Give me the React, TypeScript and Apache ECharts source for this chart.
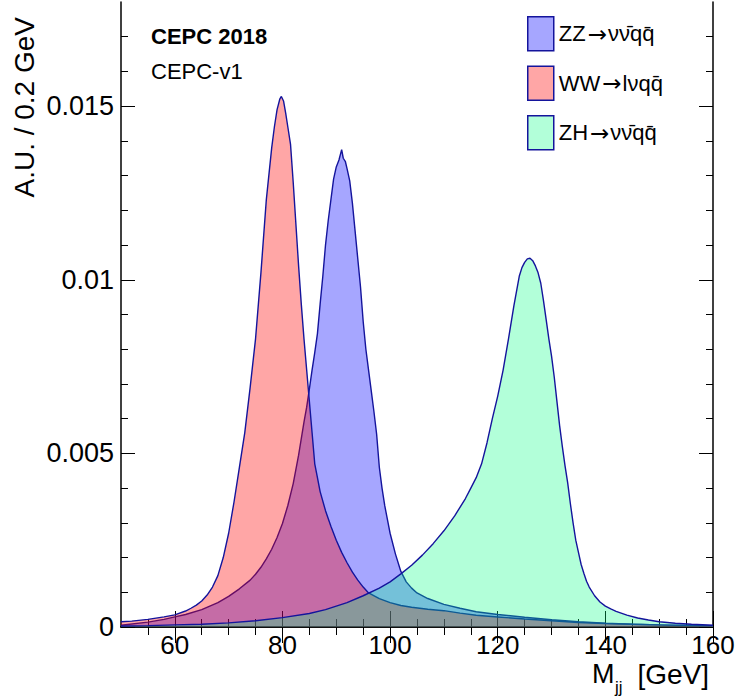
import React, { useEffect, useRef } from "react";
import * as echarts from "echarts";

// ---- data ----
const zzMass = [50, 55, 58, 60, 62, 65, 68, 70, 72, 74, 75, 76, 77, 78, 79, 80, 81, 82, 83, 84, 84.5, 85, 85.5, 86, 86.5, 87, 87.5, 88, 88.5, 89, 89.5, 90, 90.5, 91, 91.3, 91.7, 92, 92.5, 93, 93.5, 94, 94.5, 95, 95.5, 96, 96.5, 97, 97.5, 98, 98.5, 99, 99.5, 100, 101, 102, 103, 104, 105, 107, 110, 113, 116, 120, 125, 130, 135, 140, 145, 150, 155, 160];
const zzValue = [0.00005, 0.00014, 0.00022, 0.00029, 0.00036, 0.0005, 0.0007, 0.00088, 0.0011, 0.00135, 0.00152, 0.00172, 0.00196, 0.00224, 0.00258, 0.00298, 0.0035, 0.00413, 0.00495, 0.0059, 0.00633, 0.00685, 0.0074, 0.0079, 0.00845, 0.0093, 0.0101, 0.011, 0.0117, 0.0123, 0.0129, 0.01325, 0.01345, 0.01375, 0.0135, 0.0134, 0.0132, 0.01285, 0.0122, 0.0114, 0.0106, 0.0098, 0.0088, 0.008, 0.0074, 0.0068, 0.0062, 0.00555, 0.0046, 0.004, 0.0035, 0.0031, 0.0027, 0.0021, 0.0016, 0.0013, 0.00112, 0.00098, 0.00082, 0.00065, 0.00054, 0.00044, 0.00036, 0.00028, 0.00021, 0.00015, 0.00011, 0.00008, 0.00006, 0.00004, 0.00003];

const wwMass = [50, 52, 55, 58, 60, 62, 63, 64, 65, 66, 67, 68, 69, 70, 71, 72, 73, 74, 75, 76, 77, 78, 78.5, 79, 79.5, 79.8, 80.2, 80.6, 81, 81.5, 82, 82.5, 83, 83.5, 84, 84.5, 85, 85.5, 86, 86.5, 87, 88, 89, 90, 91, 92, 93, 94, 95, 96, 98, 100, 102, 104, 107, 110, 113, 116, 120, 125, 130, 135, 140, 145, 150, 155, 160];
const wwValue = [0.00015, 0.00017, 0.00022, 0.00029, 0.00035, 0.00046, 0.00054, 0.00063, 0.00075, 0.00092, 0.00115, 0.00148, 0.002, 0.0027, 0.0036, 0.0046, 0.0056, 0.0069, 0.0083, 0.0102, 0.0123, 0.0138, 0.0144, 0.0149, 0.0152, 0.01528, 0.01515, 0.0148, 0.0144, 0.0139, 0.0128, 0.0116, 0.0104, 0.0093, 0.0083, 0.0074, 0.0065, 0.0056, 0.0047, 0.0043, 0.0039, 0.00335, 0.0029, 0.0025, 0.00215, 0.00185, 0.00158, 0.00135, 0.00115, 0.00098, 0.00082, 0.0007, 0.00062, 0.00057, 0.00051, 0.00047, 0.0004, 0.00034, 0.00029, 0.00023, 0.00018, 0.00013, 0.0001, 0.00008, 0.00006, 0.00005, 0.00004];

const zhMass = [50, 55, 60, 65, 70, 75, 80, 85, 88, 90, 92, 95, 98, 100, 102, 104, 106, 108, 110, 112, 114, 115, 116, 117, 118, 119, 120, 121, 122, 123, 124, 124.5, 125, 125.5, 126, 126.5, 127, 127.5, 128, 128.5, 129, 129.5, 130, 130.5, 131, 131.5, 132, 132.5, 133, 133.5, 134, 134.5, 135, 135.5, 136, 136.5, 137, 138, 139, 140, 141, 142, 144, 146, 148, 150, 153, 156, 160];
const zhValue = [0.00003, 0.00004, 0.00006, 0.00008, 0.00012, 0.00018, 0.00027, 0.00039, 0.0005, 0.0006, 0.0007, 0.0009, 0.00112, 0.0013, 0.00153, 0.00178, 0.00207, 0.0024, 0.00277, 0.0032, 0.0037, 0.004, 0.0043, 0.0047, 0.0053, 0.006, 0.00665, 0.0074, 0.0083, 0.00925, 0.0101, 0.01035, 0.0105, 0.0106, 0.01062, 0.01055, 0.0104, 0.0102, 0.0099, 0.0094, 0.00885, 0.0083, 0.0078, 0.0072, 0.0065, 0.0058, 0.0052, 0.00465, 0.00415, 0.00355, 0.003, 0.0025, 0.00215, 0.0018, 0.00155, 0.00132, 0.00115, 0.0009, 0.00072, 0.0006, 0.00052, 0.00045, 0.00034, 0.00026, 0.0002, 0.00015, 0.00011, 0.00008, 0.00005];

const seriesNames = ["ZZ\u2192\u03BD\u03BD\u0304q\u0071\u0304", "WW\u2192l\u03BDq\u0071\u0304", "ZH\u2192\u03BD\u03BD\u0304q\u0071\u0304"];
const fillColors = ["rgba(0,0,255,0.35)", "rgba(255,0,0,0.35)", "rgba(0,255,128,0.3)"];
const lineColor = "#14149c";

const xMajorTicks = [60, 80, 100, 120, 140, 160];
const xMinorTicks = [55, 65, 70, 75, 85, 90, 95, 105, 110, 115, 125, 130, 135, 145, 150, 155];
const yMajorTicks = [0, 0.005, 0.01, 0.015];
const yMinorTicks = [0.001, 0.002, 0.003, 0.004, 0.006, 0.007, 0.008, 0.009, 0.011, 0.012, 0.013, 0.014, 0.016, 0.017];

const X_MIN = 50, X_MAX = 160, Y_MIN = 0, Y_MAX = 0.018;
const FONT = "'Liberation Sans', Arial, Helvetica, sans-serif";

function zip(xs: number[], ys: number[]) {
  return xs.map((x, i) => [x, ys[i]]);
}

function legendRich(name: string) {
  const k = name.indexOf("\u2192");
  return "{t|" + name.slice(0, k) + "}{ar|\u2192}{t|" + name.slice(k + 1) + "}";
}

export default function App() {
  const ref = useRef<HTMLDivElement>(null);
  useEffect(() => {
    if (!ref.current) return;
    const chart = echarts.init(ref.current, undefined, { renderer: "svg" });

    const axisLine = { show: true, lineStyle: { color: "#000", width: 1.5 } };
    const mkX = (pos: string, major: boolean) => ({
      type: "value",
      gridIndex: 0,
      position: pos,
      min: X_MIN,
      max: X_MAX,
      interval: 10,
      axisLine: major ? axisLine : { show: false },
      splitLine: { show: false },
      axisTick: {
        show: true,
        inside: true,
        length: major ? 16 : 8,
        customValues: major ? xMajorTicks : xMinorTicks,
        lineStyle: { color: "#000", width: 1 },
      },
      axisLabel: major && pos === "bottom"
        ? { show: true, customValues: xMajorTicks, fontSize: 26, lineHeight: 22, fontFamily: FONT, color: "#000", margin: 7 }
        : { show: false },
    });
    const mkY = (pos: string, major: boolean) => ({
      type: "value",
      gridIndex: 0,
      position: pos,
      min: Y_MIN,
      max: Y_MAX,
      axisLine: major ? axisLine : { show: false },
      splitLine: { show: false },
      axisTick: {
        show: true,
        inside: true,
        length: major ? 14 : 7,
        customValues: major ? yMajorTicks : yMinorTicks,
        lineStyle: { color: "#000", width: 1 },
      },
      axisLabel: major && pos === "left"
        ? {
            show: true,
            customValues: yMajorTicks,
            fontSize: 27,
            fontFamily: FONT,
            color: "#000",
            margin: 7,
            formatter: (v: number) => (v === 0 ? "0" : String(parseFloat(v.toFixed(4)))),
          }
        : { show: false },
    });

    const mkSeries = (i: number, xs: number[], ys: number[]) => ({
      name: seriesNames[i],
      type: "line",
      xAxisIndex: 0,
      yAxisIndex: 0,
      data: zip(xs, ys),
      showSymbol: false,
      symbol: "none",
      clip: true,
      lineStyle: { color: lineColor, width: 1.4 },
      itemStyle: { color: fillColors[i], borderColor: lineColor },
      areaStyle: { color: fillColors[i], origin: "start", opacity: 1 },
      z: 2 + i,
    });

    chart.setOption({
      animation: false,
      backgroundColor: "#fff",
      grid: { left: 121, right: 28, top: 2, bottom: 71, containLabel: false },
      xAxis: [mkX("bottom", true), mkX("bottom", false), mkX("top", true), mkX("top", false)],
      yAxis: [mkY("left", true), mkY("left", false), mkY("right", true), mkY("right", false)],
      legend: {
        show: true,
        orient: "vertical",
        left: 527,
        top: 16,
        padding: 0,
        itemWidth: 26,
        itemHeight: 34,
        itemGap: 14,
        icon: "rect",
        formatter: (n: string) => legendRich(n),
        textStyle: {
          fontSize: 22,
          fontFamily: FONT,
          color: "#000",
          rich: {
            t: { fontSize: 22, fontFamily: FONT, color: "#000" },
            ar: { fontSize: 23, fontFamily: "'DejaVu Sans', sans-serif", color: "#000", padding: [0, 1, 0, 2] },
          },
        },
        data: seriesNames.map((n, i) => ({
          name: n,
          icon: "rect",
          itemStyle: { color: fillColors[i], borderColor: lineColor, borderWidth: 1.5 },
          lineStyle: { opacity: 0 },
        })),
        selectedMode: false,
      },
      series: [mkSeries(0, zzMass, zzValue), mkSeries(1, wwMass, wwValue), mkSeries(2, zhMass, zhValue)],
      graphic: [
        {
          type: "text",
          left: 151,
          top: 25,
          style: { text: "CEPC 2018", fontSize: 22, fontWeight: "bold", fontFamily: FONT, fill: "#000" },
        },
        {
          type: "text",
          left: 151,
          top: 60,
          style: { text: "CEPC-v1", fontSize: 22, fontFamily: FONT, fill: "#000" },
        },
        {
          type: "text",
          x: 24,
          y: 17,
          rotation: Math.PI / 2,
          style: {
            text: "A.U. / 0.2 GeV",
            fontSize: 28,
            fontFamily: FONT,
            fill: "#000",
            align: "right",
            verticalAlign: "middle",
          },
        },
        {
          type: "text",
          x: 709,
          y: 674,
          style: { text: "[GeV]", fontSize: 28, fontFamily: FONT, fill: "#000", align: "right", verticalAlign: "middle" },
        },
        {
          type: "text",
          x: 592,
          y: 674,
          style: { text: "M", fontSize: 27, fontFamily: FONT, fill: "#000", align: "left", verticalAlign: "middle" },
        },
        {
          type: "text",
          x: 615,
          y: 687,
          style: { text: "jj", fontSize: 17, fontFamily: FONT, fill: "#000", align: "left", verticalAlign: "middle" },
        },
      ],
    });
    return () => chart.dispose();
  }, []);

  return (
    <div
      ref={ref}
      style={{ position: "absolute", left: 0, top: 0, width: 741, height: 698, background: "#fff" }}
    />
  );
}
